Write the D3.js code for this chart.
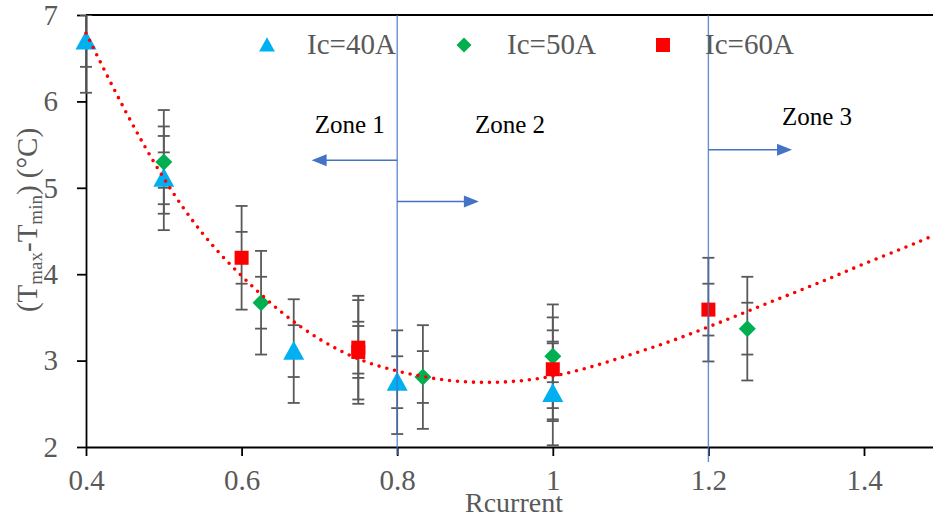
<!DOCTYPE html>
<html>
<head>
<meta charset="utf-8">
<script src="https://cdn.jsdelivr.net/npm/d3@7"></script>
<style>
  html, body { margin: 0; padding: 0; background: #fff; }
  svg { display: block; }
  text { font-family: "Liberation Serif", "Times New Roman", serif; }
</style>
</head>
<body>
<svg id="chart" width="933" height="518"></svg>
<script>
// ---------- data ----------
const xTickValues = [0.4, 0.6, 0.8, 1.0, 1.2, 1.4];
const xTickLabels = ["0.4", "0.6", "0.8", "1", "1.2", "1.4"];
const yTickValues = [2, 3, 4, 5, 6, 7];
const yTickLabels = ["2", "3", "4", "5", "6", "7"];

const seriesNames = ["Ic=40A", "Ic=50A", "Ic=60A"];

const ic40X = [0.4, 0.5, 0.667, 0.8, 1.0];
const ic40Y = [6.70, 5.11, 3.11, 2.75, 2.62];

const ic50X = [0.5, 0.625, 0.833, 1.0, 1.25];
const ic50Y = [5.30, 3.67, 2.81, 3.05, 3.37];

const ic60X = [0.6, 0.75, 0.75, 1.0, 1.2];
const ic60Y = [4.19, 3.15, 3.10, 2.90, 3.59];

// error bar caps (± values)
const errorSteps = [0.3, 0.6];

// dotted trend curve
const trendX = [0.4, 0.45, 0.5, 0.55, 0.6, 0.65, 0.7, 0.75, 0.8, 0.85, 0.9, 0.95, 1.0, 1.05, 1.1, 1.15, 1.2, 1.25, 1.3, 1.35, 1.4, 1.45, 1.49];
const trendY = [6.79, 5.90, 5.11, 4.47, 3.98, 3.57, 3.25, 3.02, 2.88, 2.79, 2.75, 2.76, 2.82, 2.93, 3.07, 3.22, 3.39, 3.57, 3.75, 3.93, 4.12, 4.30, 4.45];

// zone boundaries and labels
const zoneBounds = [0.8, 1.2];
const zoneLabels = ["Zone 1", "Zone 2", "Zone 3"];

(function () {
// ---------- layout ----------
const svg = d3.select("#chart");
const W = 933;
const mLeft = 86, mTop = 15, mBottom = 447;
const x = d3.scaleLinear().domain([0.4, 1.5]).range([mLeft, mLeft + 778 * 1.1]);
const y = d3.scaleLinear().domain([2, 7]).range([mBottom, mTop]);

const gray = "#595959";
const colors = ["#00B0F0", "#00B050", "#FF0000"];
const zoneColor = "#4472C4";

svg.append("defs").append("clipPath").attr("id", "plotclip")
  .append("rect").attr("x", 0).attr("y", mTop).attr("width", W).attr("height", mBottom - mTop);

// top border
svg.append("line")
  .attr("x1", mLeft).attr("x2", W).attr("y1", y(7)).attr("y2", y(7))
  .attr("stroke", "#000").attr("stroke-width", 1.8);

// ---------- axes ----------
const xAxis = d3.axisBottom(x)
  .tickValues(xTickValues)
  .tickFormat((d, i) => xTickLabels[i])
  .tickSize(9).tickSizeOuter(0).tickPadding(13);
const gx = svg.append("g").attr("transform", `translate(0,${mBottom})`).call(xAxis);

const yAxis = d3.axisLeft(y)
  .tickValues(yTickValues)
  .tickFormat((d, i) => yTickLabels[i])
  .tickSize(9).tickSizeOuter(0).tickPadding(19);
const gy = svg.append("g").attr("transform", `translate(${mLeft},0)`).call(yAxis);

[gx, gy].forEach(g => {
  g.select(".domain").attr("stroke", "#000").attr("stroke-width", 1.8);
  g.selectAll(".tick line").attr("stroke", "#000").attr("stroke-width", 1.8);
  g.selectAll(".tick text")
    .attr("fill", gray)
    .style("font-family", '"Liberation Serif", "Times New Roman", serif')
    .style("font-size", "29px");
});

// axis titles
svg.append("text")
  .attr("x", 514).attr("y", 512)
  .attr("text-anchor", "middle")
  .attr("fill", gray).style("font-size", "28px")
  .text("Rcurrent");

const yt = svg.append("text")
  .attr("transform", "translate(37,220) rotate(-90)")
  .attr("text-anchor", "middle")
  .attr("fill", gray).style("font-size", "29px");
yt.append("tspan").text("(T");
yt.append("tspan").attr("dy", 5).style("font-size", "19px").text("max");
yt.append("tspan").attr("dy", -5).text("-T");
yt.append("tspan").attr("dy", 5).style("font-size", "19px").text("min");
yt.append("tspan").attr("dy", -5).text(") (°C)");

// ---------- marker shapes ----------
function markerPath(kind, cx, cy, s) {
  if (kind === 0) { // triangle
    const w = s * 1.05, h = s * 0.95;
    return `M${cx},${cy - h * 0.55}L${cx + w / 2},${cy + h * 0.45}L${cx - w / 2},${cy + h * 0.45}Z`;
  } else if (kind === 1) { // diamond
    const r = s / 2;
    return `M${cx},${cy - r}L${cx + r},${cy}L${cx},${cy + r}L${cx - r},${cy}Z`;
  } else { // square
    const r = s / 2;
    return `M${cx - r},${cy - r}h${s}v${s}h${-s}Z`;
  }
}

const series = [
  { xs: ic40X, ys: ic40Y, size: 20 },
  { xs: ic50X, ys: ic50Y, size: 17 },
  { xs: ic60X, ys: ic60Y, size: 14 }
];

// ---------- error bars ----------
const errG = svg.append("g").attr("clip-path", "url(#plotclip)");
const maxE = d3.max(errorSteps);
series.forEach(s => {
  s.xs.forEach((xv, i) => {
    const v = s.ys[i];
    errG.append("line")
      .attr("x1", x(xv)).attr("x2", x(xv))
      .attr("y1", y(v + maxE)).attr("y2", y(v - maxE))
      .attr("stroke", gray).attr("stroke-width", 1.8);
    errorSteps.forEach(e => {
      [v + e, v - e].forEach(c => {
        errG.append("line")
          .attr("x1", x(xv) - 6).attr("x2", x(xv) + 6)
          .attr("y1", y(c)).attr("y2", y(c))
          .attr("stroke", gray).attr("stroke-width", 1.8);
      });
    });
  });
});

// ---------- markers ----------
series.forEach((s, k) => {
  svg.append("g").selectAll("path")
    .data(s.xs.map((xv, i) => [xv, s.ys[i]]))
    .join("path")
    .attr("d", d => markerPath(k, x(d[0]), y(d[1]), s.size))
    .attr("fill", colors[k]);
});

// ---------- trend line ----------
const trendLine = d3.line()
  .x((d, i) => x(trendX[i]))
  .y((d, i) => y(trendY[i]))
  .curve(d3.curveNatural);
svg.append("path")
  .attr("d", trendLine(trendX))
  .attr("fill", "none")
  .attr("stroke", "#FF0000")
  .attr("stroke-width", 3.6)
  .attr("stroke-linecap", "round")
  .attr("stroke-dasharray", "0 8");

// ---------- zones ----------
const zoneLineBottom = [455, 462];
zoneBounds.forEach((b, i) => {
  svg.append("line")
    .attr("x1", x(b)).attr("x2", x(b))
    .attr("y1", y(7)).attr("y2", zoneLineBottom[i])
    .attr("stroke", zoneColor).attr("stroke-opacity", 0.8).attr("stroke-width", 1.4);
});

const arrows = [
  { from: zoneBounds[0], to: 0.690, at: 5.32 },
  { from: zoneBounds[0], to: 0.905, at: 4.84 },
  { from: zoneBounds[1], to: 1.3075, at: 5.44 }
];
arrows.forEach(a => {
  const x0 = x(a.from), x1 = x(a.to), yy = y(a.at);
  const dir = x1 > x0 ? 1 : -1;
  const headL = 15, headW = 6;
  svg.append("line")
    .attr("x1", x0).attr("x2", x1 - dir * headL + dir * 1)
    .attr("y1", yy).attr("y2", yy)
    .attr("stroke", zoneColor).attr("stroke-width", 1.5);
  svg.append("path")
    .attr("d", `M${x1},${yy}L${x1 - dir * headL},${yy - headW}L${x1 - dir * headL},${yy + headW}Z`)
    .attr("fill", zoneColor);
});

const zoneText = [
  { x: 0.694, y: 5.63 },
  { x: 0.9, y: 5.63 },
  { x: 1.2946, y: 5.73 }
];
zoneLabels.forEach((t, i) => {
  svg.append("text")
    .attr("x", x(zoneText[i].x)).attr("y", y(zoneText[i].y))
    .attr("fill", "#000").style("font-size", "25px")
    .text(t);
});

// ---------- legend ----------
const legendMarkX = [267, 464, 663];
const legendTextX = [307, 507, 705];
const legendSizes = [15, 15, 14];
seriesNames.forEach((n, k) => {
  svg.append("path")
    .attr("d", markerPath(k, legendMarkX[k], 45, legendSizes[k]))
    .attr("fill", colors[k]);
  svg.append("text")
    .attr("x", legendTextX[k]).attr("y", 54)
    .attr("fill", gray).style("font-size", "29px")
    .text(n);
});
})();
</script>
</body>
</html>
